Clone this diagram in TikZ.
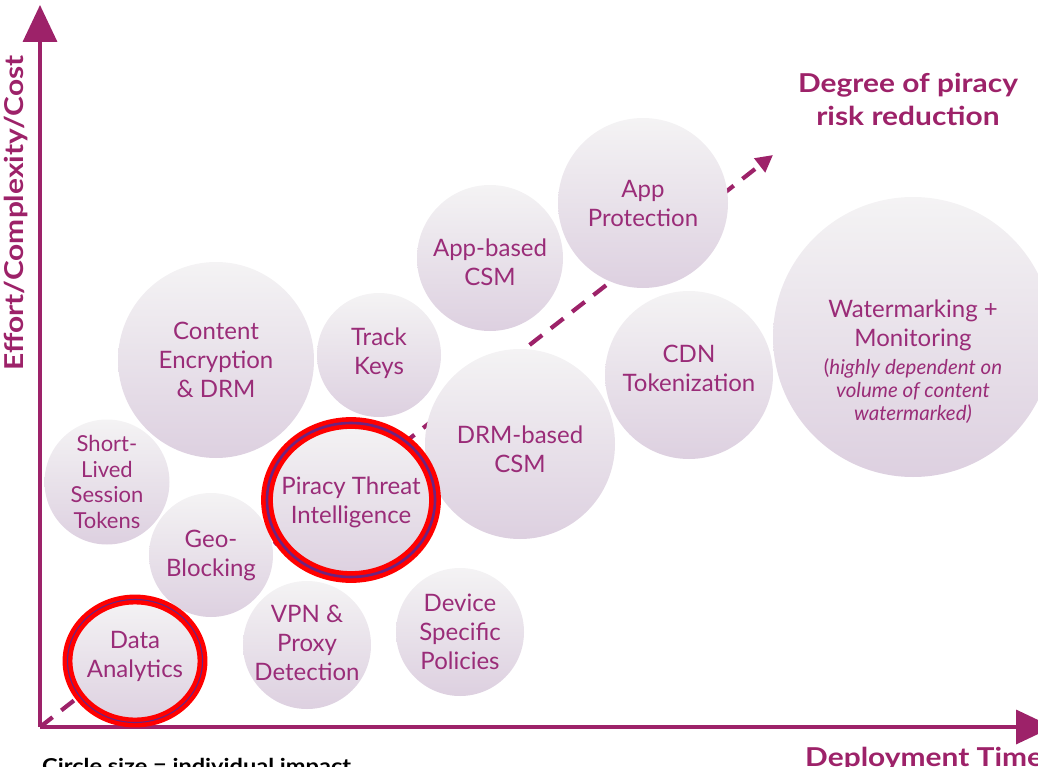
\documentclass[tikz,border=0pt]{standalone}
\usepackage{fontspec}
\setmainfont{Lato}
\usepackage{xcolor}
\definecolor{pvplum}{HTML}{9D2269}
\definecolor{pvtext}{HTML}{9A2C78}
\definecolor{pvtop}{HTML}{F4F3F4}
\definecolor{pvbottom}{HTML}{DDD0E0}
\definecolor{pvred}{HTML}{FF0000}
\definecolor{pvring}{HTML}{6E2380}
\usepackage{tikz}
\usetikzlibrary{arrows.meta,shapes.geometric}
\tikzset{
  every picture/.style={line join=round},
  axisline/.style={pvplum, line width=3.6pt, -{Triangle[length=37pt,width=34pt]}},
  riskline/.style={pvplum, line width=4.2pt, dash pattern=on 16pt off 11pt,
    -{Triangle[length=17pt,width=17pt]}},
  bubble/.style={circle, inner sep=0pt, top color=pvtop, bottom color=pvbottom, draw=none},
  ring/.style={draw=pvred, line width=4.6pt, double=pvring, double distance=2.6pt},
  thinring/.style={draw=pvred, line width=4.4pt, double=pvring, double distance=1.1pt},
  bubbletxt/.style={font=\fontsize{24}{29}\selectfont, text=pvtext, align=center, inner sep=0pt},
  heading/.style={font=\bfseries\fontsize{26}{33}\selectfont, text=pvplum, align=center,
    inner sep=0pt, xscale=1.15},
}
\newcommand{\notefont}{\fontsize{20.5}{23}\selectfont}

\begin{document}
\begin{tikzpicture}[x=1pt, y=-1pt]
\useasboundingbox (0,0) rectangle (1038,767);
% axes and the risk direction
\coordinate (origin) at (40,727);
\coordinate (ytip) at (40,5);
\coordinate (xtip) at (1053,727);
\coordinate (risktip) at (773,155);
\draw[axisline] (origin) -- (ytip);
\draw[axisline] (origin) -- (xtip);
\draw[riskline] (origin) -- (risktip);
% the bubbles: name/x/y/diameter
\foreach \nm/\cx/\cy/\d in {encrypt/216/360/196, track/379/355/124, appcsm/490/258/146,
  appprot/643/203/170, cdn/689/375/168, wm/913/337/280, drmcsm/520/444/190,
  session/107/482/125, geo/211/555/124, vpn/307/645/128, device/460/632/128}
  \node[bubble, minimum size=\d pt] (\nm) at (\cx,\cy) {};
% the two highlighted ones
\node[bubble, ellipse, ring, minimum width=168pt, minimum height=154pt] (threat) at (351,500) {};
\node[bubble, ellipse, thinring, minimum width=135pt, minimum height=123pt] (data) at (135,661) {};
% bubble texts
\node[bubbletxt] (encrypt-txt) at (encrypt) {Content\\Encryption\\\& DRM};
\node[bubbletxt] (track-txt) at ([yshift=2pt]track.center) {Track\\Keys};
\node[bubbletxt] (appcsm-txt) at ([yshift=-4pt]appcsm.center) {App-based\\CSM};
\node[bubbletxt] (appprot-txt) at (appprot) {App\\Protection};
\node[bubbletxt] (cdn-txt) at ([yshift=7pt]cdn.center) {CDN\\Tokenization};
\node[bubbletxt] (drmcsm-txt) at ([yshift=-5pt]drmcsm.center) {DRM-based\\CSM};
\node[bubbletxt, font=\fontsize{22}{25.5}\selectfont] (session-txt) at (session)
  {Short-\\Lived\\Session\\Tokens};
\node[bubbletxt] (geo-txt) at (geo) {Geo-\\Blocking};
\node[bubbletxt] (vpn-txt) at ([yshift=2pt]vpn.center) {VPN \&\\Proxy\\Detection};
\node[bubbletxt] (device-txt) at (device) {Device\\Specific\\Policies};
\node[bubbletxt] (threat-txt) at ([yshift=-2pt]threat.center) {Piracy Threat\\Intelligence};
\node[bubbletxt] (data-txt) at ([yshift=5pt]data.center) {Data\\Analytics};
\node[bubbletxt] (wm-txt) at ([yshift=-25pt]wm.center)
  {Watermarking +\\Monitoring\\[-1pt]{\notefont(\textit{highly dependent on}}\\[-6pt]
   {\notefont\itshape volume of content}\\[-6pt]{\notefont\itshape watermarked)}};
% axis titles
\node[rotate=90, heading] (ylabel) at (16,213) {Effort/Complexity/Cost};
\node[heading] (riskhead) at (908,99) {Degree of piracy\\risk reduction};
\node[heading, anchor=base west] (xlabel) at (805,766) {Deployment Time};
\node[heading, text=black, font=\bfseries\fontsize{20.5}{25}\selectfont, anchor=base west]
  (sizenote) at (42,773) {Circle size = individual impact};
\end{tikzpicture}
\end{document}
